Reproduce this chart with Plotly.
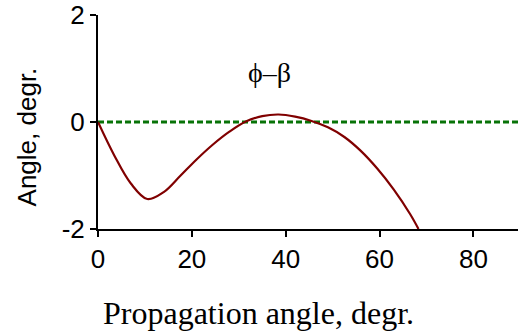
import plotly.graph_objects as go

# Angle difference phi - beta versus propagation angle (degrees)
prop_angle = [0, 3.5, 7, 10.5, 14, 17.5, 21, 24.5, 28, 31.5, 35, 38.5, 42,
              45.5, 49, 52.5, 56, 59.5, 63, 66.5, 68.3]
phi_minus_beta = [0, -0.63, -1.15, -1.44, -1.31, -1.01, -0.70, -0.42, -0.18,
                  0.01, 0.11, 0.14, 0.10, 0.02, -0.10, -0.28, -0.54, -0.87,
                  -1.26, -1.72, -2.0]

# Zero reference line
ref_x = [0, 90]
ref_y = [0, 0]

x_ticks = [0, 20, 40, 60, 80]
x_tick_text = ["0", "20", "40", "60", "80"]
y_ticks = [-2, 0, 2]
y_tick_text = ["-2", "0", "2"]

fig = go.Figure()
fig.add_trace(go.Scatter(
    x=ref_x, y=ref_y, mode="lines",
    line=dict(color="#077307", width=3, dash="6px,3px"),
    hoverinfo="skip",
))
fig.add_trace(go.Scatter(
    x=prop_angle, y=phi_minus_beta, mode="lines",
    line=dict(color="#800000", width=2.2, shape="spline", smoothing=1.0),
))

fig.add_annotation(
    x=36.5, y=0.92, xref="x", yref="y", text="ϕ–β", showarrow=False,
    font=dict(family="Liberation Serif", size=28, color="black"),
)
# Axis titles
fig.add_annotation(
    x=-0.169, y=0.428, xref="paper", yref="paper", text="Angle, degr.",
    textangle=-90, showarrow=False, xanchor="center", yanchor="middle",
    font=dict(family="Liberation Sans", size=26, color="black"),
)
fig.add_annotation(
    x=0.383, y=-0.393, xref="paper", yref="paper",
    text="Propagation angle, degr.", showarrow=False,
    xanchor="center", yanchor="middle",
    font=dict(family="Liberation Serif", size=32, color="black"),
)

fig.update_layout(
    width=518, height=336,
    margin=dict(l=98, r=0, t=15, b=107),
    paper_bgcolor="white", plot_bgcolor="white",
    showlegend=False,
    font=dict(family="Liberation Sans", color="black"),
)
fig.update_xaxes(
    range=[0, 89.5], showgrid=False, zeroline=False,
    showline=True, linecolor="black", linewidth=2,
    ticks="outside", ticklen=6, tickwidth=2, tickcolor="black",
    tickvals=x_ticks, ticktext=x_tick_text,
    tickfont=dict(family="Liberation Sans", size=26),
)
fig.update_yaxes(
    range=[-2, 2], showgrid=False, zeroline=False,
    showline=True, linecolor="black", linewidth=2,
    ticks="outside", ticklen=6, tickwidth=2, tickcolor="black",
    tickvals=y_ticks, ticktext=y_tick_text,
    tickfont=dict(family="Liberation Sans", size=26),
)

fig.write_html("out.html")
